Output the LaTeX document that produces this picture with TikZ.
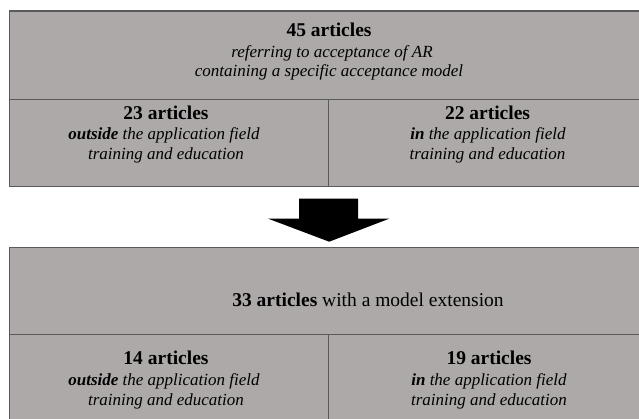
\documentclass[tikz,border=0pt]{standalone}
\usepackage{fontspec}
\setmainfont{Liberation Serif}
\usetikzlibrary{calc}
\definecolor{cellgrey}{RGB}{172,169,168}
\definecolor{edgegrey}{RGB}{90,90,90}
\tikzset{
  cell/.style={draw=edgegrey, line width=1.2pt, fill=cellgrey, rectangle, inner sep=0pt, anchor=north west},
  hd/.style={inner sep=0pt, anchor=base, text=black, font=\fontsize{19.5}{21}\selectfont\bfseries},
  sub/.style={inner sep=0pt, anchor=base, text=black, font=\fontsize{17}{20}\selectfont\itshape},
  plain/.style={inner sep=0pt, anchor=base, text=black, font=\fontsize{19.5}{21}\selectfont},
}
\begin{document}
\begin{tikzpicture}[x=1pt,y=-1pt]
\useasboundingbox (0,0) rectangle (639,419);
\clip (0,0) rectangle (639,419);
% top box
\node[cell, minimum width=641pt, minimum height=88.5pt] (tophead) at (9,10.5) {};
\node[cell, minimum width=319pt, minimum height=87pt] (topleft) at (9,99) {};
\node[cell, minimum width=322pt, minimum height=87pt] (topright) at (328,99) {};
% bottom box
\node[cell, minimum width=641pt, minimum height=87pt] (bothead) at (9,247) {};
\node[cell, minimum width=319pt, minimum height=100pt] (botleft) at (9,334) {};
\node[cell, minimum width=322pt, minimum height=100pt] (botright) at (328,334) {};
% top header texts
\node[hd]  (t1a) at (329,37) {45 articles};
\node[sub] (t1b) at (332,58) {referring to acceptance of AR};
\node[sub] (t1c) at (329,77) {containing a specific acceptance model};
% top cells
\node[hd]  (t2a) at (166,120) {23 articles};
\node[sub] (t2b) at (164,140) {\textbf{outside} the application field};
\node[sub] (t2c) at (166,160) {training and education};
\node[hd]  (t3a) at (487.5,120) {22 articles};
\node[sub] (t3b) at (488,140) {\textbf{in} the application field};
\node[sub] (t3c) at (487.5,160) {training and education};
% bottom header
\node[plain] (t4) at (368,306) {\textbf{33 articles} with a model extension};
% bottom cells
\node[hd]  (t5a) at (166,364) {14 articles};
\node[sub] (t5b) at (164,385) {\textbf{outside} the application field};
\node[sub] (t5c) at (166,405) {training and education};
\node[hd]  (t6a) at (489,364) {19 articles};
\node[sub] (t6b) at (489,385) {\textbf{in} the application field};
\node[sub] (t6c) at (489,405) {training and education};
% arrow from top box to bottom box
\coordinate (as) at ($(topleft.south east)+(0,11.5)$);
\fill[black] ($(as)+(-30,0)$) -- ($(as)+(29,0)$) -- ($(as)+(29,20)$) -- ($(as)+(60,20)$)
  -- ($(as)+(0,43)$) -- ($(as)+(-61,20)$) -- ($(as)+(-30,20)$) -- cycle;
\end{tikzpicture}
\end{document}
